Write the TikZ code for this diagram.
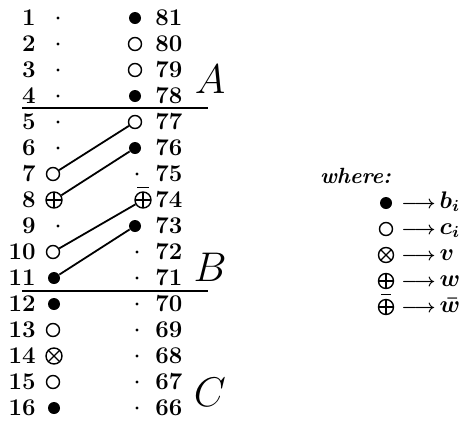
\documentclass[tikz,border=0pt]{standalone}
\usetikzlibrary{positioning}
\tikzset{
  tiny/.style={circle, fill, inner sep=0pt, minimum size=1.7pt},
  full/.style={circle, fill, inner sep=0pt, minimum size=6pt},
  hollow/.style={circle, draw, line width=0.7pt, inner sep=0pt, minimum size=6.5pt},
  oplus/.style={hollow, minimum size=8pt, path picture={
      \draw[line width=0.6pt] (path picture bounding box.north) -- (path picture bounding box.south)
        (path picture bounding box.west) -- (path picture bounding box.east);}},
  otimes/.style={hollow, minimum size=8pt, path picture={
      \draw[line width=0.6pt] (path picture bounding box.north west) -- (path picture bounding box.south east)
        (path picture bounding box.south west) -- (path picture bounding box.north east);}},
  link/.style={line width=0.9pt},
  rule/.style={line width=1.1pt},
  part/.style={font=\huge},
  key/.style={anchor=west, inner sep=0pt, text height=1.6ex, text depth=0.4ex, font=\large\bfseries\boldmath}
}
\newcommand{\keyarrow}{{\small$\longrightarrow$}\,}
\begin{document}
\begin{tikzpicture}[x=0.5pt, y=-0.5pt, font=\large\bfseries\boldmath]
    \useasboundingbox (0,0) rectangle (460,424);

    % row numbers
    \foreach \i in {1,...,16}
        \node[anchor=east, inner sep=0pt] (n\i) at (36, {18+26*(\i-1)}) {\i};
    \foreach \i in {1,...,16} {
        \pgfmathtruncatemacro{\k}{82-\i}
        \node[anchor=west, inner sep=0pt] (m\k) at (155, {18+26*(\i-1)}) {\k};
    }

    % left column
    \foreach \i/\s/\x in {1/tiny/58, 2/tiny/58, 3/tiny/58, 4/tiny/58, 5/tiny/58, 6/tiny/58,
        7/hollow/53, 8/oplus/54, 9/tiny/58, 10/hollow/53, 11/full/54, 12/full/54,
        13/hollow/53, 14/otimes/54, 15/hollow/53, 16/full/54}
        \node[\s] (L\i) at (\x, {18+26*(\i-1)}) {};

    % right column
    \foreach \i/\s/\x in {81/full/135, 80/hollow/135, 79/hollow/135, 78/full/135,
        77/hollow/135, 76/full/135, 75/tiny/137, 74/oplus/143, 73/full/135,
        72/tiny/137, 71/tiny/137, 70/tiny/137, 69/tiny/137, 68/tiny/137,
        67/tiny/137, 66/tiny/137}
        \node[\s] (R\i) at (\x, {18+26*(81-\i)}) {};
    \draw[line width=0.7pt] ([xshift=-3pt, yshift=2pt]R74.north) -- ([xshift=3pt, yshift=2pt]R74.north);

    % separators
    \draw[rule] (22,108) -- (208,108);
    \draw[rule] (22,291) -- (208,291);

    % links
    \draw[link] (L7) -- (R77);
    \draw[link] (L8) -- (R76);
    \draw[link] (L10) -- (R74);
    \draw[link] (L11) -- (R73);

    % parts
    \node[part] (A) at (210, 79) {$A$};
    \node[part] (B) at (210, 267) {$B$};
    \node[part] (C) at (210, 392) {$C$};

    % legend
    \node[anchor=west, font=\fontsize{11}{13}\selectfont\bfseries\itshape] (where) at (313, 176) {where:};
    \node[full] (k1) at (386, 203) {};
    \node[hollow] (k2) at (386, 229) {};
    \node[otimes, minimum size=7.5pt] (k3) at (386, 255) {};
    \node[oplus, minimum size=7.5pt] (k4) at (386, 281) {};
    \node[oplus, minimum size=7.5pt] (k5) at (386, 307) {};
    \draw[line width=0.6pt] ([xshift=-2.5pt, yshift=2pt]k5.north) -- ([xshift=2.5pt, yshift=2pt]k5.north);
    \node[key] (t1) at (401, 203) {\keyarrow$b_i$};
    \node[key] (t2) at (401, 229) {\keyarrow$c_i$};
    \node[key] (t3) at (401, 255) {\keyarrow$v$};
    \node[key] (t4) at (401, 281) {\keyarrow$w$};
    \node[key] (t5) at (401, 307) {\keyarrow$\bar{w}$};
\end{tikzpicture}
\end{document}
